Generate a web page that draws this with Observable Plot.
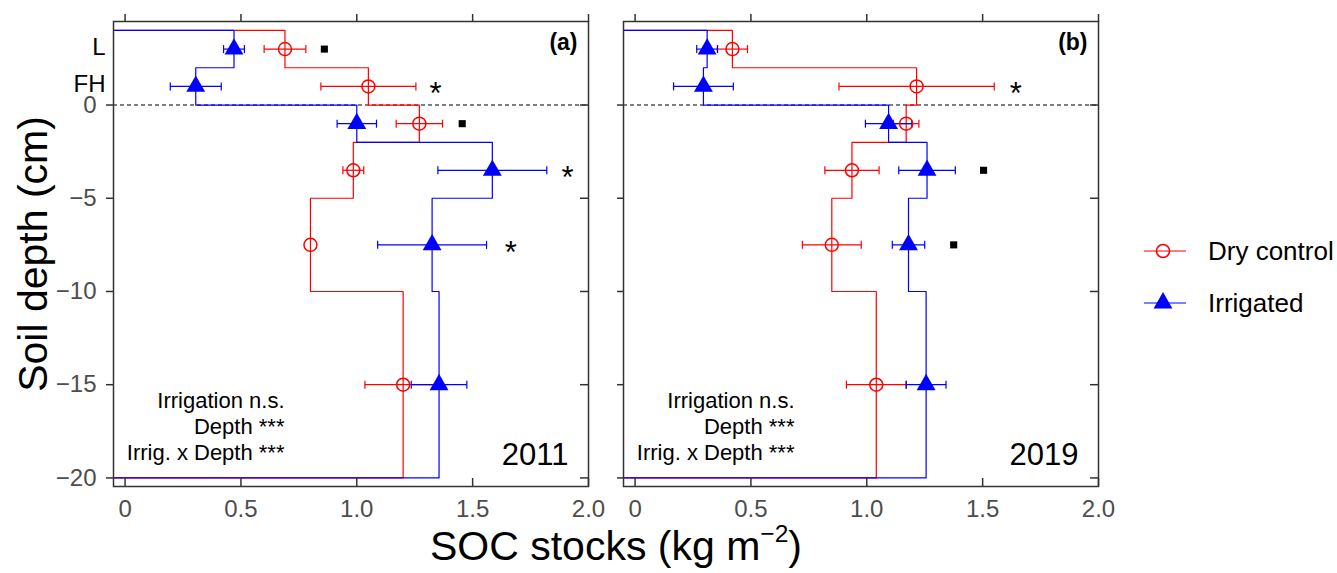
<!DOCTYPE html>
<html>
<head>
<meta charset="utf-8">
<script src="https://cdn.jsdelivr.net/npm/d3@7"></script>
<script src="https://cdn.jsdelivr.net/npm/@observablehq/plot@0.6"></script>
<style>
  body { margin: 0; background: #fff; }
  #wrap { position: relative; width: 1337px; height: 573px; overflow: hidden; background: #fff;
          font-family: "Liberation Sans", Arial, Helvetica, sans-serif; color: #000; }
  .panel { position: absolute; top: 0; }
  #xtitle { position: absolute; left: 216px; width: 800px; top: 523px; text-align: center;
            font-size: 41px; line-height: 46px; white-space: nowrap; }
  #xtitle .sup { font-size: 0.6em; position: relative; top: -0.75em; }
  #legend { position: absolute; left: 1140px; top: 225px; font-size: 26px; }
  #legend .row { display: flex; align-items: center; height: 52px; }
  #legend .row span { margin-left: 22px; }
</style>
</head>
<body>
<div id="wrap">
  <div id="pa" class="panel" style="left:0px"></div>
  <div id="pb" class="panel" style="left:613px"></div>
  <div id="xtitle">SOC stocks (kg m<span class="sup">−2</span>)</div>
  <div id="legend"></div>
</div>
<script>
// ---------------- data ----------------
const layers      = ["L", "FH", "0-2", "2-5", "5-10", "10-20"];
const layerTop    = [4, 2, 0, -2, -5, -10];
const layerBottom = [2, 0, -2, -5, -10, -20];
const layerMid    = [3, 1, -1, -3.5, -7.5, -15];

const groups = ["Dry control", "Irrigated"];

// 2011
const dry2011   = [0.69, 1.05, 1.27, 0.985, 0.80, 1.20];
const dry2011se = [0.09, 0.205, 0.10, 0.045, 0, 0.165];
const irr2011   = [0.47, 0.305, 1.00, 1.585, 1.325, 1.355];
const irr2011se = [0.045, 0.11, 0.085, 0.235, 0.235, 0.12];
// 2019
const dry2019   = [0.42, 1.215, 1.17, 0.936, 0.849, 1.041];
const dry2019se = [0.065, 0.335, 0.055, 0.117, 0.127, 0.129];
const irr2019   = [0.311, 0.295, 1.094, 1.26, 1.18, 1.256];
const irr2019se = [0.045, 0.129, 0.10, 0.122, 0.07, 0.086];

// significance markers (depth, SOC position, symbol)
const sig2011Y = [3, 1, -1, -3.5, -7.5];
const sig2011X = [0.86, 1.34, 1.455, 1.91, 1.665];
const sig2011T = ["■", "*", "■", "*", "*"];
const sig2019Y = [1, -3.5, -7.5];
const sig2019X = [1.643, 1.504, 1.375];
const sig2019T = ["*", "■", "■"];

const xTicks = [0, 0.5, 1.0, 1.5, 2.0];
const xTickLabels = ["0", "0.5", "1.0", "1.5", "2.0"];
const yTicks = [0, -5, -10, -15, -20];
const yTickLabels = ["0", "−5", "−10", "−15", "−20"];
const layerLabelY = [3, 1];
const layerLabels = ["L", "FH"];

const statsLines = ["Irrigation n.s.", "Depth ***", "Irrig. x Depth ***"];
const panelTags = ["(a)", "(b)"];
const years = ["2011", "2019"];
const yTitle = "Soil depth (cm)";

const X_DOMAIN = [-0.05, 2.0];
const Y_DOMAIN = [-20.46, 4.48];
const RED = "#ff0000", BLUE = "#0000ff";
const AXIS = "#333333", TICKTEXT = "#4d4d4d";

// ---------------- helpers ----------------
const capSymbol = {
  draw(context, size) {
    const h = Math.sqrt(size / Math.PI);
    context.moveTo(0, -h);
    context.lineTo(0, h);
  }
};

function stepPoints(vals) {
  const pts = [{x: X_DOMAIN[0], y: layerTop[0]}];
  vals.forEach((v, i) => {
    pts.push({x: v, y: layerTop[i]});
    pts.push({x: v, y: layerBottom[i]});
  });
  pts.push({x: X_DOMAIN[0], y: layerBottom[layerBottom.length - 1]});
  return pts;
}

function makePanel(p) {
  const H = 530, mt = 21, mb = 44, mr = 2, ml = p.ml, W = p.width;
  const plotW = W - ml - mr, plotH = H - mt - mb;
  const rows = (vals, se) => vals.map((v, i) => ({v, se: se[i], y: layerMid[i], layer: layers[i]}));
  const dryRows = rows(p.dry, p.drySe);
  const irrRows = rows(p.irr, p.irrSe);
  const caps = r => r.filter(d => d.se > 0).flatMap(d => [{x: d.v - d.se, y: d.y}, {x: d.v + d.se, y: d.y}]);
  const sig = p.sigY.map((y, i) => ({y, x: p.sigX[i], t: p.sigT[i]}));

  const marks = [
    Plot.ruleY([0], {stroke: "#000", strokeWidth: 1.1, strokeDasharray: "4,3"}),
    Plot.line(stepPoints(p.dry), {x: "x", y: "y", stroke: RED, strokeWidth: 1.2}),
    Plot.line(stepPoints(p.irr), {x: "x", y: "y", stroke: BLUE, strokeWidth: 1.2}),
    Plot.link(dryRows.filter(d => d.se > 0), {x1: d => d.v - d.se, x2: d => d.v + d.se, y1: "y", y2: "y", stroke: RED, strokeWidth: 1.2}),
    Plot.dot(caps(dryRows), {x: "x", y: "y", symbol: capSymbol, r: 4, stroke: RED, fill: "none", strokeWidth: 1.2}),
    Plot.link(irrRows.filter(d => d.se > 0), {x1: d => d.v - d.se, x2: d => d.v + d.se, y1: "y", y2: "y", stroke: BLUE, strokeWidth: 1.2}),
    Plot.dot(caps(irrRows), {x: "x", y: "y", symbol: capSymbol, r: 4, stroke: BLUE, fill: "none", strokeWidth: 1.2}),
    Plot.dot(dryRows, {x: "v", y: "y", r: 6.5, stroke: RED, fill: "none", strokeWidth: 1.5}),
    Plot.dot(irrRows, {x: "v", y: "y", symbol: "triangle", r: 7, fill: BLUE, stroke: "none"}),
    Plot.text(sig.filter(d => d.t === "*"), {x: "x", y: "y", text: "t", fontSize: 31, dy: 8, fill: "#000"}),
    Plot.dot(sig.filter(d => d.t === "■"), {x: "x", y: "y", symbol: "square", r: 4, fill: "#000"}),
    Plot.text([statsLines.join("\n")], {frameAnchor: "bottom-left", textAnchor: "end", lineAnchor: "middle",
      dx: 171, dy: -61, lineHeight: 1.18, fontSize: 22, fill: "#000"}),
    Plot.text([p.year], {frameAnchor: "bottom-right", textAnchor: "end", lineAnchor: "middle",
      dx: -20, dy: -31, fontSize: 31, fill: "#000"}),
    Plot.text([p.tag], {frameAnchor: "top-right", textAnchor: "end", lineAnchor: "middle",
      dx: -11, dy: 21, fontSize: 23, fontWeight: "bold", fill: "#000"}),
    // axes
    Plot.axisX({anchor: "top", ticks: xTicks, tickSize: 8, tickFormat: () => "", stroke: AXIS, strokeWidth: 1.5, label: null}),
    Plot.axisX({anchor: "bottom", ticks: xTicks, tickSize: 0, tickPadding: 13, color: TICKTEXT,
      tickFormat: d => xTickLabels[xTicks.indexOf(d)], label: null}),
    Plot.tickX(xTicks, {x: d => d, insetTop: plotH - 8, stroke: AXIS, strokeWidth: 1.5}),
    Plot.tickY(yTicks, {y: d => d, insetLeft: plotW - 8, stroke: AXIS, strokeWidth: 1.5}),
    Plot.frame({stroke: AXIS, strokeWidth: 1.5})
  ];
  if (p.showY) {
    marks.push(
      Plot.axisY({anchor: "left", ticks: yTicks, tickSize: 7, tickPadding: 10, color: TICKTEXT, stroke: AXIS, strokeWidth: 1.5,
        tickFormat: d => yTickLabels[yTicks.indexOf(d)], label: null}),
      Plot.text(layerLabelY, {y: d => d, text: d => layerLabels[layerLabelY.indexOf(d)], frameAnchor: "left",
        textAnchor: "end", lineAnchor: "middle", dx: -8, dy: -2, fontSize: 24, fill: "#000"}),
      Plot.text([yTitle], {frameAnchor: "left", dx: -80, rotate: -90, textAnchor: "middle", lineAnchor: "middle", fontSize: 41, fill: "#000"})
    );
  } else {
    marks.push(
      Plot.axisY({anchor: "left", ticks: yTicks, tickSize: 6, tickFormat: () => "", stroke: AXIS, strokeWidth: 1.5, label: null})
    );
  }
  return Plot.plot({
    width: W, height: H, marginTop: mt, marginBottom: mb, marginLeft: ml, marginRight: mr,
    x: {domain: X_DOMAIN},
    y: {domain: Y_DOMAIN},
    style: {fontFamily: '"Liberation Sans", Arial, Helvetica, sans-serif', fontSize: "24px", background: "transparent", overflow: "visible"},
    marks
  });
}

document.getElementById("pa").appendChild(makePanel({
  width: 590, ml: 113, showY: true,
  dry: dry2011, drySe: dry2011se, irr: irr2011, irrSe: irr2011se,
  sigY: sig2011Y, sigX: sig2011X, sigT: sig2011T, year: years[0], tag: panelTags[0]
}));
document.getElementById("pb").appendChild(makePanel({
  width: 487, ml: 10, showY: false,
  dry: dry2019, drySe: dry2019se, irr: irr2019, irrSe: irr2019se,
  sigY: sig2019Y, sigX: sig2019X, sigT: sig2019T, year: years[1], tag: panelTags[1]
}));

// legend
const legend = document.getElementById("legend");
groups.forEach((g, i) => {
  const row = document.createElement("div");
  row.className = "row";
  const col = i === 0 ? RED : BLUE;
  const sym = i === 0
    ? `<circle cx="23" cy="15" r="6.5" fill="none" stroke="${col}" stroke-width="1.5"/>`
    : `<path d="${d3.symbol(d3.symbolTriangle, 7 * 7 * Math.PI)()}" transform="translate(23,15)" fill="${col}"/>`;
  row.innerHTML = `<svg width="46" height="30"><line x1="4" x2="46" y1="15" y2="15" stroke="${col}" stroke-width="1.2"/>${sym}</svg><span>${g}</span>`;
  legend.appendChild(row);
});
</script>
</body>
</html>
